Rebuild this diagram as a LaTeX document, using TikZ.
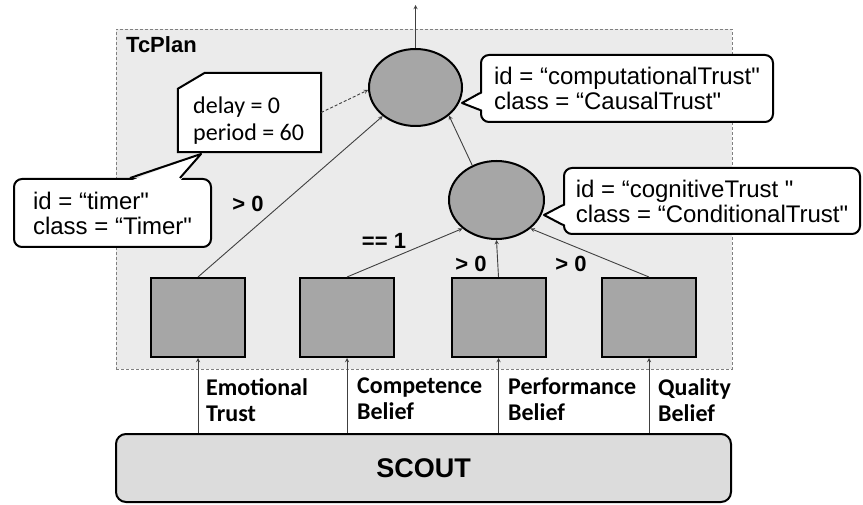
\documentclass[tikz,border=0pt]{standalone}
\usepackage{fontspec}
\setmainfont{Liberation Sans}[Ligatures=TeXOff]
\newfontfamily\calib{Carlito}
\usepackage{tikz}
\usetikzlibrary{shapes,arrows,calc,positioning}
\definecolor{plangray}{HTML}{EBEBEB}
\definecolor{nodegray}{HTML}{A6A6A6}
\definecolor{scoutgray}{HTML}{DCDCDC}
\definecolor{edgegray}{HTML}{404040}
\tikzset{every picture/.style={>=stealth},
  trust/.style={ellipse,draw,line width=2pt,fill=nodegray},
  input/.style={rectangle,draw,line width=2pt,fill=nodegray,minimum width=94pt,minimum height=79pt},
  callout/.style={rectangle,rounded corners=8pt,draw,line width=2pt,fill=white,align=left,
    font=\fontsize{24}{25}\selectfont},
  edge/.style={->,draw=edgegray,line width=0.9pt},
  cond/.style={font=\bfseries\fontsize{22}{24}\selectfont},
  feed/.style={anchor=north west,align=left,inner sep=0pt,execute at begin node={\strut},
    font=\calib\bfseries\fontsize{24}{26}\selectfont}}

\begin{document}
\begin{tikzpicture}[x=1pt,y=-1pt]
  \useasboundingbox (0,0) rectangle (863,505);
  % plan and its parts
  \node (plan) [draw=gray,densely dashed,fill=plangray,minimum width=616pt,minimum height=340pt] at (424,199) {};
  \node (tcplan) [anchor=base west,inner sep=0pt,font=\bfseries\fontsize{22}{24}\selectfont] at (126,53) {TcPlan};
  \node (ct) [trust,minimum width=93pt,minimum height=77pt] at (415.5,87.5) {};
  \node (cog) [trust,minimum width=95pt,minimum height=78pt] at (496.5,200) {};
  \node (b1) [input] at (198,317.5) {};
  \node (b2) [input] at (347,317.5) {};
  \node (b3) [input] at (498.5,317.5) {};
  \node (b4) [input] at (649,317.5) {};
  \node (scout) [draw,line width=2pt,fill=scoutgray,rounded corners=10pt,minimum width=615pt,minimum height=68pt,
    font=\bfseries\fontsize{27}{30}\selectfont] at (423.5,468) {SCOUT};
  \coordinate (top) at (415.5,5);
  % annotations
  \path node (note) [minimum width=143pt,minimum height=79pt] at (249.5,112.5) {};
  \draw[line width=2pt,fill=white] ([yshift=-16pt]note.north west) -- ([xshift=27pt]note.north west)
    -- (note.north east) -- (note.south east) -- (note.south west) -- cycle;
  \node (notetext) [anchor=north west,inner sep=0pt,align=left,font=\calib\fontsize{24}{27}\selectfont]
    at (193,97) {delay = 0\\period = 60};
  \node (ctc) [callout,minimum width=292pt,minimum height=67pt] at (627,88.5)
    {id = “computationalTrust"\\class = “CausalTrust"};
  \node (cgc) [callout,minimum width=296pt,minimum height=66pt] at (712,201)
    {id = “cognitiveTrust "\\class = “ConditionalTrust"};
  \node (tim) [callout,minimum width=197pt,minimum height=68pt] at (112.5,213)
    {id = “timer"\\class = “Timer"};
  \coordinate (ctctip) at (462,103);
  \coordinate (cgctip) at (544,215);
  \coordinate (timtip) at (201,154);
  \fill[white] ([xshift=3pt,yshift=-4.5pt]ctc.west) -- (ctctip) -- ([xshift=3pt,yshift=-21.5pt]ctc.west) -- cycle;
  \draw[line width=2pt,line join=round] ([yshift=-4.5pt]ctc.west) -- (ctctip) -- ([yshift=-21.5pt]ctc.west);
  \fill[white] ([xshift=3pt,yshift=-4pt]cgc.west) -- (cgctip) -- ([xshift=3pt,yshift=-24pt]cgc.west) -- cycle;
  \draw[line width=2pt,line join=round] ([yshift=-4pt]cgc.west) -- (cgctip) -- ([yshift=-24pt]cgc.west);
  \fill[white] ([xshift=17.5pt,yshift=-3pt]tim.north) -- (timtip) -- ([xshift=67.5pt,yshift=-3pt]tim.north) -- cycle;
  \draw[line width=2pt,line join=round] ([xshift=17.5pt]tim.north) -- (timtip) -- ([xshift=67.5pt]tim.north);
  % connectors
  \draw[edge] (ct.north) -- (top);
  \draw[edge,densely dashed] (note.east) -- (ct.183);
  \draw[edge] (cog.125) -- (ct.320);
  \draw[edge] (b1.north) -- (ct);
  \draw[edge] (b2.north) -- (cog.220);
  \draw[edge] (b3.north) -- (cog.south);
  \draw[edge] (b4.north) -- (cog.320);
  \foreach \b in {b1,b2,b3,b4}
    \draw[edge] (\b.south |- scout.north) -- (\b.south);
  % conditions
  \node (c1) [cond] at (248,204) {> 0};
  \node (c2) [cond] at (384,241) {== 1};
  \node (c3) [cond] at (471,264) {> 0};
  \node (c4) [cond] at (571,264) {> 0};
  % feeds from SCOUT
  \node (f1) [feed] at (206,378) {Emotional\\Trust};
  \node (f2) [feed] at (357,378) {Competence\\Belief};
  \node (f3) [feed] at (508,378) {Performance\\Belief};
  \node (f4) [feed] at (658,378) {Quality\\Belief};
\end{tikzpicture}
\end{document}
